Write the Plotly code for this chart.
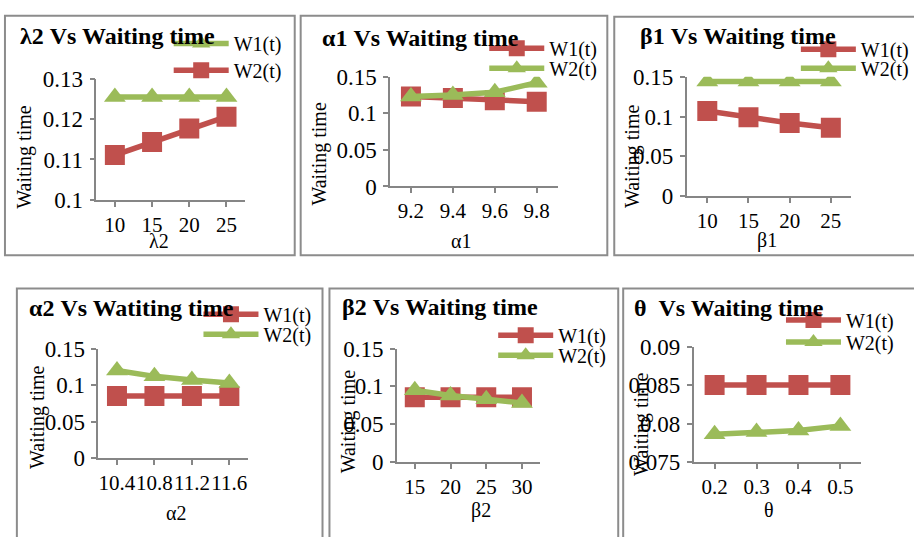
import plotly.graph_objects as go

W, H = 914, 537
FONT = "Liberation Serif, Times New Roman, DejaVu Serif, serif"
RED = "#C0504D"
GREEN = "#9BBB59"
GRAY = "#868686"

# ---------------- data ----------------
lam2_cats = ["10", "15", "20", "25"]
lam2_W1 = [0.1255, 0.1255, 0.1255, 0.1255]
lam2_W2 = [0.1111, 0.1143, 0.1177, 0.1206]

alpha1_cats = ["9.2", "9.4", "9.6", "9.8"]
alpha1_W1 = [0.123, 0.121, 0.118, 0.116]
alpha1_W2 = [0.123, 0.125, 0.129, 0.142]

beta1_cats = ["10", "15", "20", "25"]
beta1_W1 = [0.107, 0.099, 0.092, 0.086]
beta1_W2 = [0.144, 0.144, 0.144, 0.144]

alpha2_cats = ["10.4", "10.8", "11.2", "11.6"]
alpha2_W1 = [0.085, 0.085, 0.085, 0.085]
alpha2_W2 = [0.120, 0.112, 0.107, 0.103]

beta2_cats = ["15", "20", "25", "30"]
beta2_W1 = [0.0855, 0.0855, 0.0855, 0.0855]
beta2_W2 = [0.095, 0.088, 0.083, 0.078]

theta_cats = ["0.2", "0.3", "0.4", "0.5"]
theta_W1 = [0.085, 0.085, 0.085, 0.085]
theta_W2 = [0.0786, 0.0789, 0.0791, 0.0797]

titles = ["λ2 Vs Waiting time", "α1 Vs Waiting time", "β1 Vs Waiting time",
          "α2 Vs Watiting time", "β2 Vs Waiting time", "θ  Vs Waiting time"]
xtitles = ["λ2", "α1", "β1", "α2", "β2", "θ"]
ytitle = "Waiting time"
series_names = ["W1(t)", "W2(t)"]

# ---------------- layout geometry (pixels) ----------------
panels = [
    dict(cats=lam2_cats, w1=lam2_W1, w2=lam2_W2, w1_green=True,
         yr=[0.1, 0.13], dt=0.01,
         plot=(97, 247, 70, 197), box=(5, 297, 4, 255),
         title=(18, 25), ytl=(25, 152), xtl=(160, 240), leg=(175, 33, 61)),
    dict(cats=alpha1_cats, w1=alpha1_W1, w2=alpha1_W2, w1_green=False,
         yr=[0, 0.15], dt=0.05,
         plot=(393, 562, 68, 183), box=(303, 612, 4, 255),
         title=(322, 27), ytl=(322, 149), xtl=(465, 240), leg=(493, 38, 59)),
    dict(cats=beta1_cats, w1=beta1_W1, w2=beta1_W2, w1_green=False,
         yr=[0, 0.15], dt=0.05,
         plot=(692, 858, 68, 193), box=(619, 930, 5, 255),
         title=(643, 25), ytl=(638, 152), xtl=(773, 240), leg=(807, 39, 59)),
    dict(cats=alpha2_cats, w1=alpha2_W1, w2=alpha2_W2, w1_green=False,
         yr=[0, 0.15], dt=0.05,
         plot=(99, 250, 353, 468), box=(17, 325, 290, 570),
         title=(27, 310), ytl=(37, 425), xtl=(177, 525), leg=(205, 317, 338)),
    dict(cats=beta2_cats, w1=beta2_W1, w2=beta2_W2, w1_green=False,
         yr=[0, 0.15], dt=0.05,
         plot=(400, 544, 353, 472), box=(332, 623, 290, 570),
         title=(343, 309), ytl=(352, 430), xtl=(485, 523), leg=(502, 339, 360)),
    dict(cats=theta_cats, w1=theta_W1, w2=theta_W2, w1_green=False,
         yr=[0.075, 0.09], dt=0.005,
         plot=(699, 868, 351, 472), box=(628, 930, 290, 570),
         title=(637, 310), ytl=(647, 433), xtl=(775, 522), leg=(792, 323, 346)),
]

def px(x):
    return x / W

def py(y):
    return 1 - y / H

fig = go.Figure()
layout = dict(width=W, height=H, margin=dict(l=0, r=0, t=0, b=0),
              paper_bgcolor="white", plot_bgcolor="white",
              font=dict(family=FONT, size=20, color="black"),
              showlegend=True, shapes=[], annotations=[])

leg_n = 0
for i, p in enumerate(panels, start=1):
    xa = "x" if i == 1 else f"x{i}"
    ya = "y" if i == 1 else f"y{i}"
    x0, x1, yt, yb = p["plot"]
    c1 = GREEN if p["w1_green"] else RED
    s1 = "triangle-up" if p["w1_green"] else "square"
    c2 = RED if p["w1_green"] else GREEN
    s2 = "square" if p["w1_green"] else "triangle-up"
    lx, ly1, ly2 = p["leg"]
    for name, vals, col, sym, ly in [(series_names[0], p["w1"], c1, s1, ly1),
                                     (series_names[1], p["w2"], c2, s2, ly2)]:
        leg_n += 1
        lg = "legend" if leg_n == 1 else f"legend{leg_n}"
        fig.add_trace(go.Scatter(
            x=p["cats"], y=vals, name=name, mode="lines+markers",
            xaxis=xa, yaxis=ya, legend=lg,
            line=dict(color=col, width=5.5),
            marker=dict(symbol=sym, size=20 if sym == "square" else 19, color=col),
            hoverinfo="skip"))
        layout[lg] = dict(x=px(lx - 5), y=py(ly), xanchor="left", yanchor="middle",
                          bgcolor="rgba(0,0,0,0)", itemwidth=55,
                          font=dict(family=FONT, size=20, color="black"))
    axcommon = dict(showline=True, linecolor=GRAY, linewidth=1.5, ticks="outside",
                    ticklen=5, tickcolor=GRAY, tickwidth=1.5, showgrid=False,
                    zeroline=False)
    layout["xaxis" if i == 1 else f"xaxis{i}"] = dict(
        axcommon, type="category", range=[-0.5, 3.5], tickangle=0,
        tickfont=dict(family=FONT, size=21, color="black"),
        domain=[px(x0), px(x1)], anchor=ya, ticklabelstandoff=0, fixedrange=True)
    layout["yaxis" if i == 1 else f"yaxis{i}"] = dict(
        axcommon, range=p["yr"], dtick=p["dt"], tick0=p["yr"][0],
        tickfont=dict(family=FONT, size=23, color="black"),
        domain=[py(yb), py(yt)], anchor=xa, ticklabelstandoff=2, fixedrange=True)
    bx0, bx1, by0, by1 = p["box"]
    layout["shapes"].append(dict(type="rect", xref="paper", yref="paper",
                                 x0=px(bx0), x1=px(bx1), y0=py(by1), y1=py(by0),
                                 line=dict(color="#8C8C8C", width=2), layer="below"))
    tx, ty = p["title"]
    layout["annotations"].append(dict(
        text=f"<b>{titles[i-1]}</b>", xref="paper", yref="paper",
        x=px(tx), y=py(ty), xanchor="left", yanchor="middle", showarrow=False,
        font=dict(family=FONT, size=24, color="black")))
    yx, yy = p["ytl"]
    layout["annotations"].append(dict(
        text=ytitle, xref="paper", yref="paper", x=px(yx), y=py(yy),
        xanchor="center", yanchor="middle", textangle=-90, showarrow=False,
        font=dict(family=FONT, size=20, color="black")))
    xx, xy = p["xtl"]
    layout["annotations"].append(dict(
        text=xtitles[i-1], xref="paper", yref="paper", x=px(xx), y=py(xy),
        xanchor="center", yanchor="middle", showarrow=False,
        font=dict(family=FONT, size=20, color="black")))

fig.update_layout(**layout)
fig.write_html("out.html")
